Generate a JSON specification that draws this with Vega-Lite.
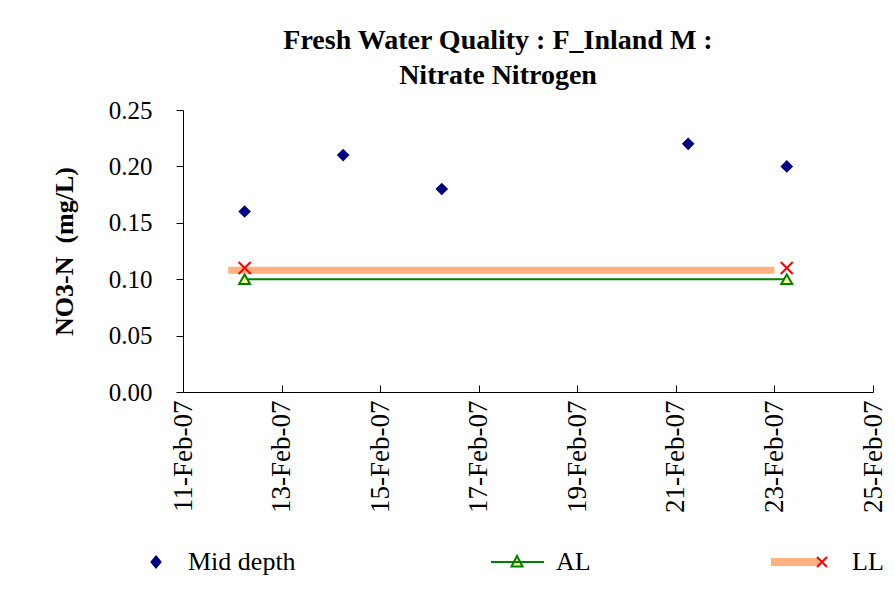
{
  "$schema": "https://vega.github.io/schema/vega-lite/v6.json",
  "width": 690,
  "height": 282,
  "autosize": {"type": "none"},
  "padding": {"left": 183, "top": 110, "right": 22, "bottom": 208},
  "background": "white",
  "title": {
    "text": ["Fresh Water Quality : F_Inland M :", "Nitrate Nitrogen"],
    "font": "Liberation Serif",
    "fontSize": 28,
    "fontWeight": "bold",
    "color": "black",
    "anchor": "middle",
    "frame": "group",
    "dx": -30,
    "offset": 8,
    "lineHeight": 35
  },
  "config": {
    "view": {"stroke": null},
    "font": "Liberation Serif",
    "axis": {
      "labelFont": "Liberation Serif",
      "labelFontSize": 25,
      "labelColor": "black",
      "domainColor": "black",
      "tickColor": "black",
      "grid": false,
      "titleFont": "Liberation Serif",
      "titleColor": "black",
      "labelFlush": false,
      "labelOverlap": false,
      "labelBound": false
    }
  },
  "data": {
    "values": [
      {"date": "2007-02-12T06:00:00Z", "value": 0.16, "series": "Mid depth", "part": "marker"},
      {"date": "2007-02-14T06:00:00Z", "value": 0.21, "series": "Mid depth", "part": "marker"},
      {"date": "2007-02-16T06:00:00Z", "value": 0.18, "series": "Mid depth", "part": "marker"},
      {"date": "2007-02-21T06:00:00Z", "value": 0.22, "series": "Mid depth", "part": "marker"},
      {"date": "2007-02-23T06:00:00Z", "value": 0.20, "series": "Mid depth", "part": "marker"},
      {"date": "2007-02-12T06:00:00Z", "value": 0.10, "series": "AL", "part": "marker"},
      {"date": "2007-02-23T06:00:00Z", "value": 0.10, "series": "AL", "part": "marker"},
      {"date": "2007-02-12T06:00:00Z", "value": 0.11, "series": "LL", "part": "marker"},
      {"date": "2007-02-23T06:00:00Z", "value": 0.11, "series": "LL", "part": "marker"},
      {"date": "2007-02-11T22:00:00Z", "value": 0.108, "series": "LL", "part": "bar", "line": "LL line"},
      {"date": "2007-02-23T00:00:00Z", "value": 0.108, "series": "LL", "part": "bar", "line": "LL line"}
    ]
  },
  "encoding": {
    "x": {
      "field": "date",
      "type": "temporal",
      "scale": {
        "type": "utc",
        "domain": [
          {"year": 2007, "month": 2, "date": 11, "utc": true},
          {"year": 2007, "month": 2, "date": 25, "utc": true}
        ]
      },
      "axis": {
        "title": null,
        "values": [
          {"year": 2007, "month": 2, "date": 11, "utc": true},
          {"year": 2007, "month": 2, "date": 13, "utc": true},
          {"year": 2007, "month": 2, "date": 15, "utc": true},
          {"year": 2007, "month": 2, "date": 17, "utc": true},
          {"year": 2007, "month": 2, "date": 19, "utc": true},
          {"year": 2007, "month": 2, "date": 21, "utc": true},
          {"year": 2007, "month": 2, "date": 23, "utc": true},
          {"year": 2007, "month": 2, "date": 25, "utc": true}
        ],
        "format": "%d-%b-%y",
        "labelAngle": 270,
        "labelFontSize": 27,
        "tickSize": -7,
        "labelPadding": 15
      }
    },
    "y": {
      "field": "value",
      "type": "quantitative",
      "scale": {"domain": [0, 0.25], "nice": false},
      "axis": {
        "title": "NO3-N \u00a0(mg/L)",
        "values": [0, 0.05, 0.1, 0.15, 0.2, 0.25],
        "format": ".2f",
        "tickSize": 7,
        "labelPadding": 24,
        "titleFontSize": 26,
        "titleFontWeight": "bold",
        "titlePadding": 31
      }
    }
  },
  "layer": [
    {
      "transform": [{"filter": "datum.part === 'bar'"}],
      "mark": {"type": "line", "color": "#FFB27F", "strokeWidth": 7, "strokeCap": "butt"}
    },
    {
      "transform": [{"filter": "datum.series === 'AL'"}],
      "mark": {"type": "line", "color": "#008000", "strokeWidth": 2}
    },
    {
      "transform": [{"filter": "datum.series === 'Mid depth'"}],
      "mark": {"type": "point", "shape": "diamond", "filled": true, "color": "#000080", "size": 160, "opacity": 1}
    },
    {
      "transform": [{"filter": "datum.series === 'AL'"}],
      "mark": {"type": "point", "shape": "triangle-up", "filled": true, "fill": "#FFFF99", "stroke": "#008000", "strokeWidth": 2, "size": 120, "opacity": 1}
    },
    {
      "transform": [{"filter": "datum.series === 'LL' && datum.part === 'marker'"}],
      "mark": {"type": "point", "shape": "M-1,-1L1,1M-1,1L1,-1", "filled": false, "stroke": "#FF0000", "strokeWidth": 2, "size": 144, "opacity": 1}
    },
    {
      "transform": [{"filter": "datum.part === 'bar'"}],
      "mark": {"type": "point", "filled": true, "opacity": 0},
      "encoding": {
        "color": {
          "field": "line",
          "type": "nominal",
          "scale": {
            "domain": ["Mid depth line", "AL line", "LL line"],
            "range": ["transparent", "transparent", "#FFB27F"]
          },
          "legend": {
            "orient": "none", "legendX": 635, "legendY": 439, "direction": "horizontal",
            "values": ["LL line"], "symbolSize": 400, "labelOffset": 10, "labelFont": "Liberation Serif",
            "labelFontSize": 26, "labelColor": "transparent", "title": null, "padding": 0, "symbolOpacity": 1,
            "symbolStrokeWidth": 0, "symbolType": "M-6,-0.4L-1.1,-0.4L-1.1,0.4L-6,0.4Z",
            "labelExpr": "''"
          }
        }
      }
    },
    {
      "transform": [{"filter": "datum.part === 'marker'"}],
      "mark": {"type": "point", "filled": true, "opacity": 0},
      "encoding": {
        "shape": {
          "field": "series",
          "type": "nominal",
          "scale": {
            "domain": ["Mid depth", "AL", "LL"],
            "range": [
              "M-0.9,-0.55L-0.45,0L-0.9,0.55L-1.35,0Z",
              "M-4.2,0L1.1,0M-1.6,-0.6L-1.05,0.45L-2.15,0.45Z",
              "M-1.2,-0.5L-0.2,0.5M-1.2,0.5L-0.2,-0.5M-4.3,0"
            ]
          },
          "legend": {
            "orient": "none", "legendX": -31, "legendY": 439, "direction": "horizontal", "columns": 3,
            "columnPadding": 191, "symbolSize": 400, "labelOffset": 10, "labelFont": "Liberation Serif",
            "labelFontSize": 26, "labelColor": "black", "title": null, "padding": 0, "symbolOpacity": 1,
            "symbolStrokeWidth": 2
          }
        },
        "fill": {
          "field": "series",
          "type": "nominal",
          "scale": {"domain": ["Mid depth", "AL", "LL"], "range": ["#000080", "#FFFF99", "transparent"]},
          "legend": {
            "orient": "none", "legendX": -31, "legendY": 439, "direction": "horizontal", "columns": 3,
            "columnPadding": 191, "symbolSize": 400, "labelOffset": 10, "labelFont": "Liberation Serif",
            "labelFontSize": 26, "labelColor": "black", "title": null, "padding": 0, "symbolOpacity": 1,
            "symbolStrokeWidth": 2
          }
        },
        "stroke": {
          "field": "series",
          "type": "nominal",
          "scale": {"domain": ["Mid depth", "AL", "LL"], "range": ["#000080", "#008000", "#FF0000"]},
          "legend": {
            "orient": "none", "legendX": -31, "legendY": 439, "direction": "horizontal", "columns": 3,
            "columnPadding": 191, "symbolSize": 400, "labelOffset": 10, "labelFont": "Liberation Serif",
            "labelFontSize": 26, "labelColor": "black", "title": null, "padding": 0, "symbolOpacity": 1,
            "symbolStrokeWidth": 2
          }
        }
      }
    }
  ]
}
